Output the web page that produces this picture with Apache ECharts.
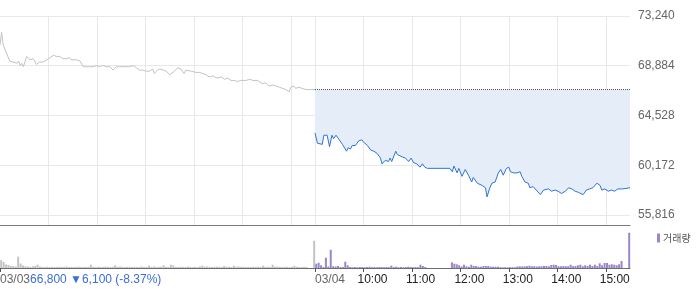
<!DOCTYPE html>
<html>
<head>
<meta charset="utf-8">
<script src="https://cdn.jsdelivr.net/npm/echarts@6/dist/echarts.min.js"></script>
<style>
html,body{margin:0;padding:0;background:#fff;}
#chart{width:700px;height:289px;}
</style>
</head>
<body>
<div id="chart"></div>
<script>
// ---------- data ----------
const dateLabels = ['03/03', '03/04'];
const timeLabels = ['10:00', '11:00', '12:00', '13:00', '14:00', '15:00'];
const yTickValues = [55816, 60172, 64528, 68884, 73240];
const prevClose = 66800;
const priceText = '66,800';
const changeText = '\u25BC6,100';
const pctText = '(-8.37%)';
const volumeName = '거래량';

const day1Times = ['09:00','09:02','09:04','09:08','09:12','09:16','09:21','09:23','09:25','09:27',
'09:29','09:33','09:37','09:41','09:43','09:45','09:49','09:53','09:58','10:02',
'10:06','10:10','10:14','10:18','10:22','10:26','10:28','10:35','10:39','10:43',
'10:47','10:51','10:55','10:59','11:03','11:07','11:12','11:16','11:20','11:24',
'11:28','11:32','11:36','11:40','11:45','11:49','11:53','11:57','12:01','12:05',
'12:09','12:11','12:15','12:18','12:22','12:26','12:30','12:32','12:36','12:40',
'12:42','12:44','12:46','12:48','12:50','12:57','13:03','13:07','13:11','13:15',
'13:19','13:23','13:25','13:29','13:34','13:38','13:42','13:46','13:50','13:54',
'13:58','14:00','14:05','14:09','14:13','14:15','14:19','14:21','14:25','14:29',
'14:33','14:35','14:38','14:42','14:46','14:50','14:54','14:56','14:58','15:00',
'15:02','15:04','15:06','15:08','15:10','15:14','15:16','15:19','15:23','15:30'];
const day1Prices = [70700,71800,70700,70000,69300,69200,69100,69300,68900,69100,
68800,69700,69400,69500,69300,69000,69200,69200,69400,69600,
69800,69700,69700,69500,69500,69600,69400,69400,69300,68800,
68800,68800,68800,68900,68800,68900,68800,68800,68500,68800,
68800,68800,68800,68800,68900,68700,68500,68500,68400,68400,
68600,68200,68500,68600,68500,68400,68100,68000,68400,68700,
68600,68600,68400,68200,68500,68400,68300,68300,68200,68100,
67900,68000,67900,67800,67900,67700,67800,67600,67600,67500,
67600,67700,67600,67700,67600,67600,67600,67500,67300,67400,
67100,67000,67200,67100,67000,66900,66800,66700,66600,67000,
66900,67100,66900,67000,67000,66900,66900,66800,66800,66800];

const day2Times = ['09:00','09:03','09:05','09:09','09:11','09:15','09:18','09:21','09:23','09:26',
'09:30','09:34','09:36','09:39','09:41','09:44','09:46','09:50','09:52','09:54',
'09:58','10:00','10:05','10:09','10:13','10:17','10:21','10:23','10:27','10:31',
'10:33','10:35','10:40','10:42','10:44','10:48','10:52','10:54','10:56','10:59',
'11:02','11:06','11:10','11:13','11:16','11:19','11:47','11:50','11:52','11:56',
'11:58','12:02','12:06','12:08','12:10','12:14','12:16','12:21','12:23','12:27',
'12:31','12:33','12:36','12:39','12:43','12:47','12:50','12:53','12:55','12:57',
'13:00','13:02','13:06','13:10','13:14','13:16','13:20','13:24','13:26','13:30',
'13:34','13:39','13:43','13:49','13:53','13:57','14:01','14:05','14:10','14:14',
'14:18','14:22','14:26','14:32','14:36','14:40','14:44','14:49','14:53','14:55',
'14:59','15:03','15:07','15:11','15:15','15:21','15:30'];
const day2Prices = [63000,62100,62000,62000,62800,62800,61800,62800,62500,62800,
62400,62000,61900,61400,61700,61600,61900,61900,62100,62300,
62400,62200,61900,61500,61400,61200,60800,60300,60600,60500,
60800,60500,61400,61100,61100,60900,60800,60900,60500,60800,
60400,60300,60000,60300,60000,59900,59900,59600,60100,59500,
59900,59200,59800,59900,59300,58700,59100,58600,58700,58400,
58200,57400,58100,58600,58700,59500,59800,59300,59600,59900,
60000,59600,59500,59500,59600,59200,58700,58600,58200,58300,
58000,57600,58000,58100,57900,58000,57900,57700,57900,58200,
58100,57900,57800,57600,58000,58100,58200,58600,58400,58000,
58100,57900,58000,57900,58100,58100,58200];

// volume per 3-minute bin from 09:00 (units: thousand shares)
const day1Vol = [80,60,35,30,20,20,15,113,45,25,17,15,10,17,20,33,15,
12,10,13,10,12,10,10,13,10,12,15,10,12,10,12,13,10,12,10,12,
33,
12,10,13,12,10,15,12,10,12,
27,
13,15,12,10,12,13,10,12,10,12,15,10,12,
23,
12,15,10,12,13,
27,
12,10,
33,25,
12,10,13,12,10,15,12,10,12,10,15,
23,
12,15,12,10,12,13,12,10,
20,
13,12,10,
23,
12,15,12,13,10,12,10,13,12,12,10,
23,
12,13,10,
33,
12,15,12,10,13,12,10,12,
23,
12,10,10,12,10,
0,0,0];
const day2Vol = [43,53,27,10,103,15,183,17,15,20,10,10,63,27,
10,8,10,8,10,10,8,10,
13,
8,10,8,10,10,8,10,8,
23,10,13,
8,10,8,10,
13,
10,8,10,8,
33,20,10,
0,0,0,0,0,0,0,0,0,0,
57,43,37,27,15,33,17,12,33,20,20,13,13,20,20,20,13,13,13,13,
8,7,8,7,8,8,7,
15,
17,15,17,18,
23,
17,18,15,17,18,
20,20,17,30,33,30,
18,17,20,18,17,
33,
18,20,
27,33,18,27,20,33,20,33,20,47,27,50,50,33,37,33,27,37,70,
0,0,0];
const closingAuctionTime = '15:29';
const closingAuctionVol = [273, 353];

// ---------- helpers ----------
const SESSION = 390;
function toMin(t, day) {
  const p = t.split(':').map(Number);
  return day * SESSION + (p[0] - 9) * 60 + p[1];
}
const dayStarts = dateLabels.map((d, i) => i * SESSION);
const hourMins = [];
dateLabels.forEach((d, i) => timeLabels.forEach(t => hourMins.push(toMin(t, i))));
const gridLineValues = hourMins.concat(dayStarts.slice(1)).sort((a, b) => a - b);
const timeLabelValues = timeLabels.map(t => toMin(t, 1));
const tickValues = dayStarts.concat(timeLabelValues);

const FONT = '"Liberation Sans", Arial, "Noto Sans CJK KR", sans-serif';
const GRAY_VOL = '#c3c3c3';
const PURPLE = '#9b86cb';

const volData = [];
[day1Vol, day2Vol].forEach((arr, d) => {
  const color = d === 0 ? GRAY_VOL : PURPLE;
  arr.forEach((v, i) => volData.push({ value: [d * SESSION + i * 3 + 1.5, v], itemStyle: { color } }));
  volData.push({ value: [toMin(closingAuctionTime, d), closingAuctionVol[d]], itemStyle: { color } });
});

const fmtNum = v => String(v).replace(/\B(?=(\d{3})+(?!\d))/g, ',');

const chart = echarts.init(document.getElementById('chart'), null, { renderer: 'canvas' });
chart.setOption({
  animation: false,
  backgroundColor: '#fff',
  textStyle: { fontFamily: FONT },
  grid: [
    { left: 0, right: 70, top: 16, bottom: 64, containLabel: false, outerBoundsMode: 'none' },
    { left: 0, right: 70, top: 225, bottom: 21, containLabel: false, outerBoundsMode: 'none' }
  ],
  legend: {
    data: [volumeName],
    left: 652, top: 228,
    icon: 'rect', itemWidth: 3, itemHeight: 9, itemGap: 0,
    selectedMode: false,
    textStyle: { fontSize: 10, color: '#555', fontFamily: '"Noto Sans CJK KR", sans-serif', padding: [0, 0, 0, -2] }
  },
  xAxis: [
    {
      type: 'value', gridIndex: 0, min: 0, max: 2 * SESSION,
      axisLine: { show: true, lineStyle: { color: '#7a7a7a', width: 1 } },
      axisTick: { show: false, customValues: gridLineValues },
      axisLabel: { show: false },
      splitLine: { show: true, lineStyle: { color: '#e8e8e8', width: 1 } }
    },
    {
      type: 'value', gridIndex: 1, min: 0, max: 2 * SESSION, position: 'bottom',
      axisLine: { show: true, onZero: false, lineStyle: { color: '#6e6e6e', width: 1 } },
      axisTick: { show: true, length: 4, customValues: tickValues, lineStyle: { color: '#555' } },
      axisLabel: {
        show: true, customValues: dayStarts, align: 'left', margin: 6,
        fontSize: 12, color: '#666', fontFamily: FONT,
        formatter: v => {
          const i = dayStarts.indexOf(v);
          if (i === 0) return dateLabels[0] + '{p|' + priceText + ' ' + changeText + ' ' + pctText + '}';
          return dateLabels[i];
        },
        rich: { p: { fontSize: 12, color: '#3a6fd6', fontFamily: FONT } }
      },
      splitLine: { show: false }
    },
    {
      type: 'value', gridIndex: 1, min: 0, max: 2 * SESSION, position: 'bottom',
      axisLine: { show: false, onZero: false },
      axisTick: { show: false },
      axisLabel: {
        show: true, customValues: timeLabelValues, align: 'left', margin: 6,
        padding: [0, 0, 0, -6],
        fontSize: 12, color: '#222', fontFamily: FONT,
        formatter: v => timeLabels[timeLabelValues.indexOf(v)]
      },
      splitLine: { show: false }
    }
  ],
  yAxis: [
    {
      type: 'value', gridIndex: 0, position: 'right', min: 54940, max: 73240,
      axisLine: { show: false }, axisTick: { show: false, customValues: yTickValues },
      axisLabel: { show: true, customValues: yTickValues, margin: 8, fontSize: 12, color: '#666', fontFamily: FONT, formatter: v => fmtNum(v) },
      splitLine: { show: true, lineStyle: { color: '#e8e8e8', width: 1 } }
    },
    {
      type: 'value', gridIndex: 1, min: 0, max: 430,
      axisLine: { show: false }, axisTick: { show: false }, axisLabel: { show: false }, splitLine: { show: false }
    }
  ],
  series: [
    {
      type: 'line', xAxisIndex: 0, yAxisIndex: 0, showSymbol: false, symbol: 'none',
      data: day1Times.map((t, i) => [toMin(t, 0), day1Prices[i]]),
      lineStyle: { color: '#c2c2c2', width: 1 }, itemStyle: { color: '#c2c2c2' }, z: 2
    },
    {
      type: 'line', xAxisIndex: 0, yAxisIndex: 0, showSymbol: false, symbol: 'none',
      data: day2Times.map((t, i) => [toMin(t, 1), day2Prices[i]]),
      lineStyle: { color: '#2f74d8', width: 1 }, itemStyle: { color: '#2f74d8' },
      areaStyle: { origin: prevClose, color: '#e5edf9', opacity: 1 }, z: 2
    },
    {
      type: 'line', xAxisIndex: 0, yAxisIndex: 0, showSymbol: false, symbol: 'none',
      data: [[dayStarts[1], prevClose], [2 * SESSION, prevClose]],
      lineStyle: { color: '#555', width: 1, type: 'dotted' }, z: 3, silent: true
    },
    {
      name: volumeName, type: 'bar', xAxisIndex: 1, yAxisIndex: 1, barWidth: 2,
      itemStyle: { color: PURPLE }, data: volData
    }
  ]
});
</script>
</body>
</html>
